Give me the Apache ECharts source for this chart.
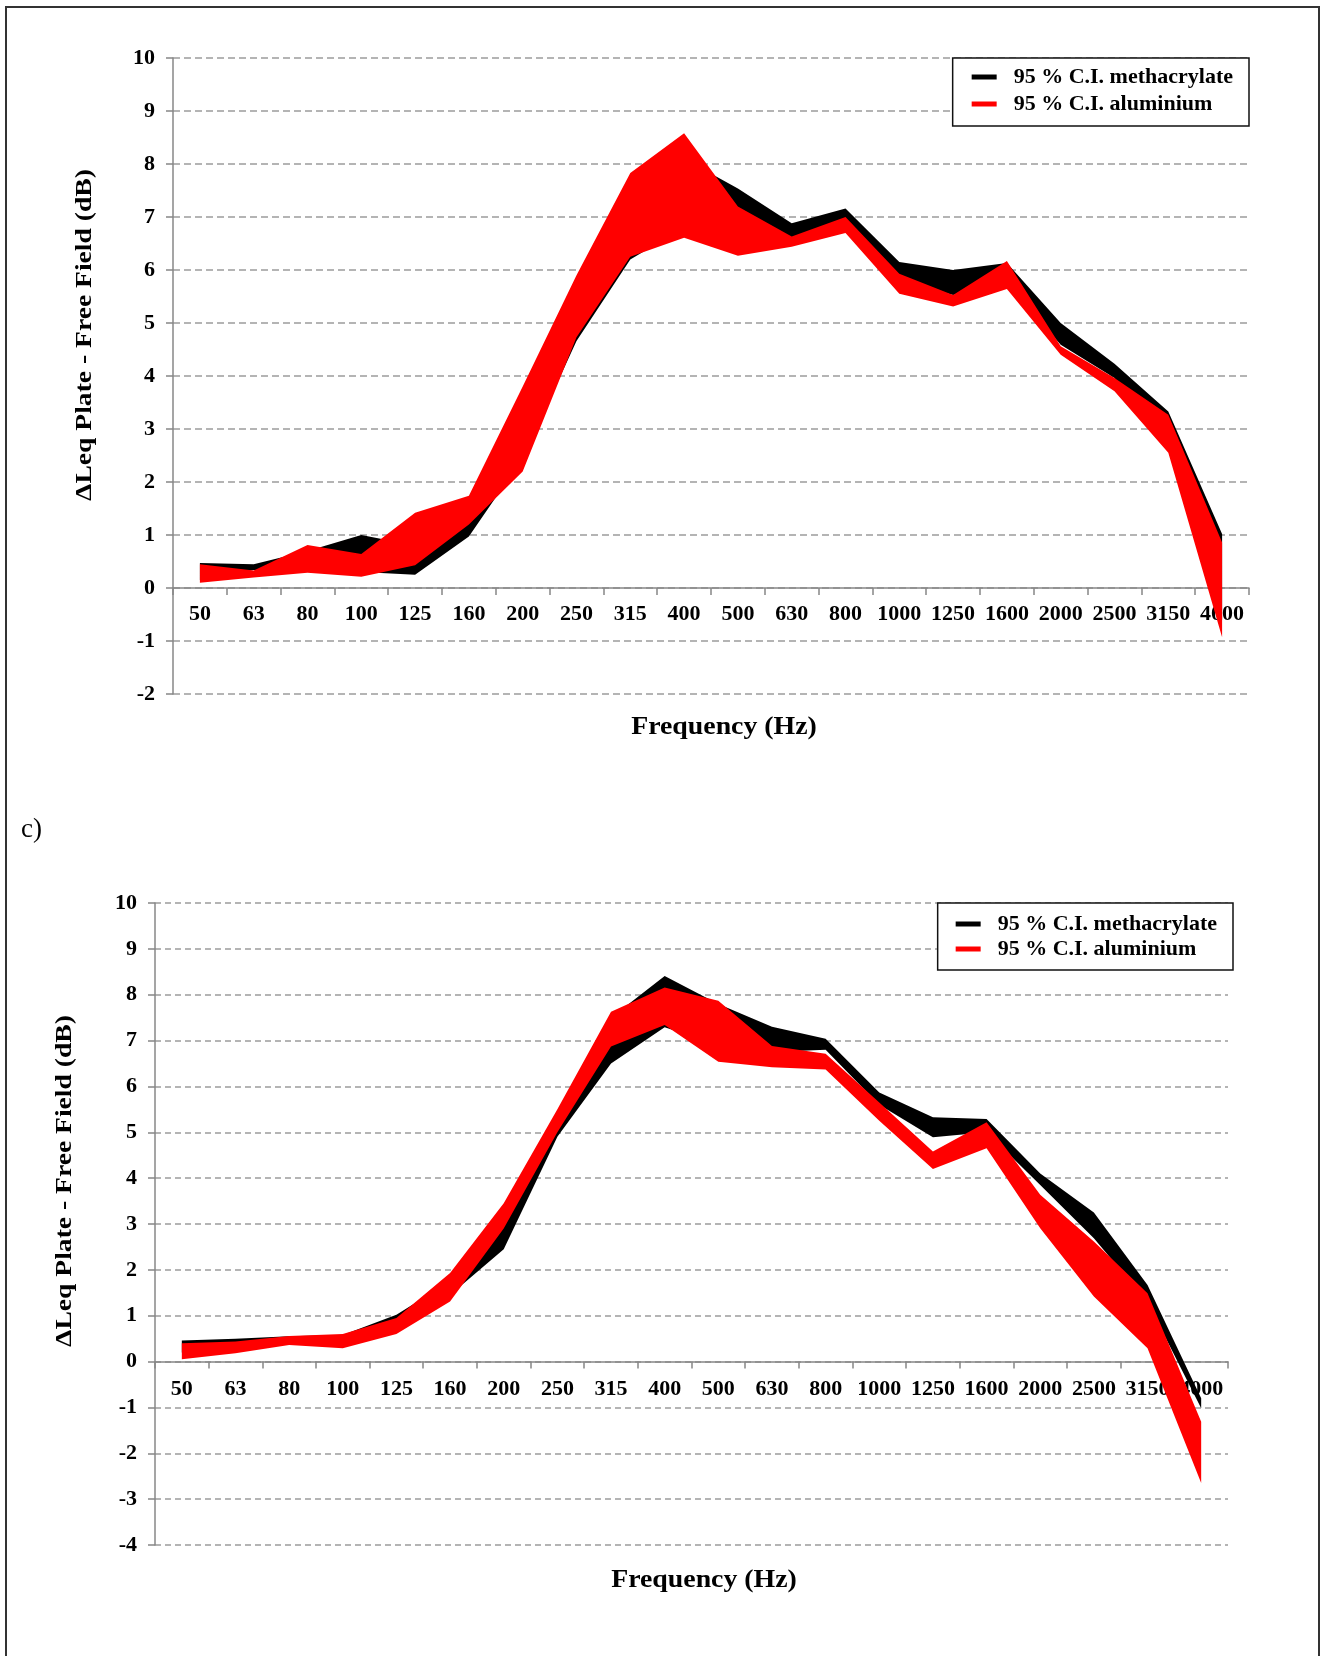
<!DOCTYPE html>
<html>
<head>
<meta charset="utf-8">
<script src="https://cdn.jsdelivr.net/npm/echarts@6/dist/echarts.min.js"></script>
<style>
  html, body { margin: 0; padding: 0; background: #fff; }
  #chart { width: 1322px; height: 1656px; }
</style>
</head>
<body>
<div id="chart"></div>
<script>
// Third-octave band centre frequencies (Hz)
const frequencies = ['50', '63', '80', '100', '125', '160', '200', '250', '315', '400',
  '500', '630', '800', '1000', '1250', '1600', '2000', '2500', '3150', '4000'];

// Upper panel: 95 % confidence bands of ΔLeq (dB)
const methLowTop  = [0.15, 0.34, 0.35, 0.30, 0.25, 0.97, 2.45, 4.66, 6.20, 6.80, 6.60, 6.55, 6.85, 5.80, 5.53, 5.75, 4.59, 3.96, 2.70, -0.60];
const methHighTop = [0.47, 0.45, 0.70, 1.00, 0.80, 1.40, 3.50, 5.60, 7.60, 8.10, 7.54, 6.88, 7.16, 6.15, 6.00, 6.13, 5.00, 4.23, 3.33, 1.02];
const aluLowTop   = [0.10, 0.20, 0.29, 0.21, 0.43, 1.20, 2.20, 4.73, 6.25, 6.61, 6.27, 6.44, 6.70, 5.55, 5.31, 5.64, 4.40, 3.71, 2.55, -0.93];
const aluHighTop  = [0.45, 0.33, 0.81, 0.64, 1.42, 1.74, 3.80, 5.90, 7.83, 8.58, 7.20, 6.63, 7.00, 5.93, 5.53, 6.17, 4.56, 3.96, 3.27, 0.86];

// Lower panel (c): 95 % confidence bands of ΔLeq (dB)
const methLowC  = [0.20, 0.30, 0.40, 0.40, 0.75, 1.45, 2.45, 4.90, 6.50, 7.29, 6.90, 6.75, 6.80, 5.60, 4.89, 5.00, 3.85, 2.69, 1.30, -1.02];
const methHighC = [0.46, 0.50, 0.55, 0.58, 1.02, 1.75, 3.10, 5.30, 7.50, 8.41, 7.80, 7.30, 7.04, 5.87, 5.33, 5.29, 4.10, 3.25, 1.67, -0.80];
const aluLowC   = [0.05, 0.18, 0.36, 0.29, 0.60, 1.31, 2.90, 5.00, 6.87, 7.34, 6.54, 6.42, 6.37, 5.25, 4.20, 4.65, 2.91, 1.42, 0.29, -2.65];
const aluHighC  = [0.40, 0.44, 0.56, 0.60, 0.95, 1.93, 3.45, 5.50, 7.63, 8.16, 7.87, 6.88, 6.71, 5.65, 4.58, 5.22, 3.64, 2.62, 1.49, -1.31];

// Y-axis ranges of the two panels
const yRangeTop = [-2, 10];
const yRangeC = [-4, 10];

const NAME_METH = '95 % C.I. methacrylate';
const NAME_ALU = '95 % C.I. aluminium';
const SERIF = '"Liberation Serif", "Times New Roman", serif';
const AXIS_GRAY = '#878787';

// Plot frames of the two panels
const frameTop = { left: 173, top: 58, width: 1076, height: 636 };
const frameC = { left: 155, top: 903, width: 1073, height: 642 };

// The frequency axis sits on the 0 dB line: a second grid that ends at 0 dB carries it
function zeroLineFrame(frame, range) {
  const h = frame.height * range[1] / (range[1] - range[0]);
  return { left: frame.left, top: frame.top, width: frame.width, height: h };
}

// A confidence band = invisible lower line + stacked (upper - lower) filled area
function band(name, low, high, color, stackId, idx) {
  const width = high.map((h, i) => +(h - low[i]).toFixed(3));
  return [
    {
      name: name + ' lower', type: 'line', xAxisIndex: idx, yAxisIndex: idx,
      stack: stackId, stackStrategy: 'all', data: low,
      symbol: 'none', silent: true, lineStyle: { opacity: 0, width: 0 }
    },
    {
      name: name, type: 'line', xAxisIndex: idx, yAxisIndex: idx,
      stack: stackId, stackStrategy: 'all', data: width, color: color,
      symbol: 'none', silent: true, lineStyle: { opacity: 0, width: 0 },
      areaStyle: { color: color, opacity: 1 }
    }
  ];
}

function plotXAxis(idx) {
  return { gridIndex: idx, type: 'category', data: frequencies, boundaryGap: true, show: false };
}

function frequencyAxis(idx, labelMargin) {
  return {
    gridIndex: idx, type: 'category', data: frequencies, boundaryGap: true, position: 'bottom',
    axisLine: { show: true, onZero: false, lineStyle: { color: AXIS_GRAY, width: 1.5 } },
    axisTick: { show: true, interval: 0, length: 7, lineStyle: { color: AXIS_GRAY, width: 1.5 } },
    axisLabel: { interval: 0, margin: labelMargin, fontFamily: SERIF, fontWeight: 'bold', fontSize: 22, color: '#000' },
    splitLine: { show: false }
  };
}

function yAxisFor(idx, range, dash) {
  return {
    gridIndex: idx, type: 'value', min: range[0], max: range[1], interval: 1,
    axisLine: { show: true, lineStyle: { color: AXIS_GRAY, width: 1.5 } },
    axisTick: { show: true, length: 7, lineStyle: { color: AXIS_GRAY, width: 1.5 } },
    axisLabel: { margin: 18, fontFamily: SERIF, fontWeight: 'bold', fontSize: 22, color: '#000' },
    splitLine: { show: true, lineStyle: { color: '#9c9c9c', width: 1.5, type: dash } }
  };
}

function hiddenYAxis(idx) {
  return { gridIndex: idx, type: 'value', min: 0, max: 1, show: false };
}

function legendFor(right, top, gap, padding) {
  return {
    orient: 'vertical', right: right, top: top, itemGap: gap, padding: padding,
    itemWidth: 25, itemHeight: 5, icon: 'rect',
    borderColor: '#111', borderWidth: 1.5, backgroundColor: '#fff',
    selectedMode: false,
    textStyle: { fontFamily: SERIF, fontWeight: 'bold', fontSize: 22, color: '#000', padding: [0, 0, 0, 12] },
    data: [
      { name: NAME_METH, itemStyle: { color: '#000' } },
      { name: NAME_ALU, itemStyle: { color: '#ff0000' } }
    ]
  };
}

function text(str, x, y, opts) {
  return Object.assign({
    type: 'text', x: x, y: y, silent: true,
    style: {
      text: str, fill: '#000', font: opts.font,
      textAlign: opts.align || 'center', textVerticalAlign: 'middle',
      align: opts.align || 'center', verticalAlign: 'middle'
    }
  }, opts.extra || {});
}

const chart = echarts.init(document.getElementById('chart'), null, { renderer: 'canvas' });

chart.setOption({
  animation: false,
  backgroundColor: '#fff',
  grid: [
    frameTop,
    frameC,
    zeroLineFrame(frameTop, yRangeTop),
    zeroLineFrame(frameC, yRangeC)
  ],
  xAxis: [plotXAxis(0), plotXAxis(1), frequencyAxis(2, 15), frequencyAxis(3, 17)],
  yAxis: [yAxisFor(0, yRangeTop, [7, 4]), yAxisFor(1, yRangeC, [6, 4]), hiddenYAxis(2), hiddenYAxis(3)],
  legend: [
    legendFor(73, 58, 5, [8, 16, 11, 19]),
    legendFor(89, 903, 3, [10, 16, 10, 18])
  ],
  series: [
    ...band(NAME_METH, methLowTop, methHighTop, '#000000', 'methTop', 0),
    ...band(NAME_ALU, aluLowTop, aluHighTop, '#ff0000', 'aluTop', 0),
    ...band(NAME_METH, methLowC, methHighC, '#000000', 'methC', 1),
    ...band(NAME_ALU, aluLowC, aluHighC, '#ff0000', 'aluC', 1)
  ],
  graphic: [
    {
      type: 'rect', silent: true, z: 100,
      shape: { x: 6, y: 7, width: 1313, height: 1670 },
      style: { fill: 'none', stroke: '#333', lineWidth: 2 }
    },
    text('ΔLeq Plate - Free Field (dB)', 85, 335,
      { font: 'bold 24px ' + SERIF, extra: { rotation: Math.PI / 2, scaleX: 1.15 } }),
    text('Frequency (Hz)', 724, 727, { font: 'bold 26px ' + SERIF, extra: { scaleX: 1.07 } }),
    text('c)', 21, 830, { font: '27px ' + SERIF, align: 'left' }),
    text('ΔLeq Plate - Free Field (dB)', 65, 1181,
      { font: 'bold 24px ' + SERIF, extra: { rotation: Math.PI / 2, scaleX: 1.15 } }),
    text('Frequency (Hz)', 704, 1580, { font: 'bold 26px ' + SERIF, extra: { scaleX: 1.07 } })
  ]
});
</script>
</body>
</html>
